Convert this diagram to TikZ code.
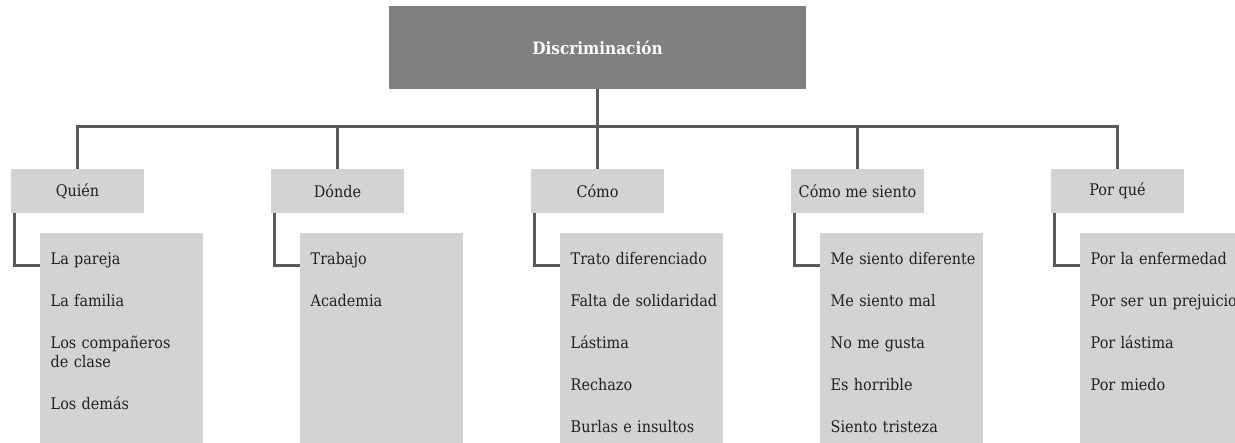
\documentclass[tikz,border=0pt]{standalone}
\usepackage{fontspec}
\setmainfont{DejaVu Serif Condensed}
\usetikzlibrary{calc}

\definecolor{rootgray}{RGB}{128,128,131}
\definecolor{boxgray}{RGB}{210,211,213}
\definecolor{linegray}{RGB}{90,90,92}
\definecolor{textgray}{RGB}{35,31,32}

\begin{document}
\begin{tikzpicture}[
    grow=down,
    x=1pt, y=1pt,
    level 1/.style={sibling distance=260pt, level distance=143.5pt,
      edge from parent path={(\tikzparentnode.south) -- ++(0,-37pt) -| (\tikzchildnode.north)}},
    level 2/.style={level distance=42pt,
      edge from parent path={($(\tikzparentnode.south west)+(4pt,0)$) |- ($(\tikzchildnode.north west)+(0,-33pt)$)}},
    edge from parent/.style={draw=linegray, line width=3pt},
    every node/.style={inner sep=0pt, text=textgray, font=\fontsize{16}{19.3}\selectfont},
    rootbox/.style={fill=rootgray, minimum width=417pt, minimum height=83pt, text=white,
      font=\fontsize{17}{20}\selectfont\bfseries},
    headbox/.style={fill=boxgray, minimum width=133pt, minimum height=44pt},
    listbox/.style={fill=boxgray, anchor=north west, xshift=-38pt, align=left,
      text width=141pt, inner xsep=11pt, text height=31pt, text depth=182pt}
  ]
  \useasboundingbox (0,0) rectangle (1235,-443);

  % Root node
  \node[rootbox] (disc) at (597.5,-47.5) {Discriminación}
    child {
      node[headbox] (quien) {Quién}
      child {node[listbox] (quienlist) {\begin{tabular}[t]{@{}l@{}}
        La pareja\\[22.7pt] La familia\\[22.7pt] Los compañeros\\ de clase\\[22.7pt] Los demás
      \end{tabular}}}
    }
    child {
      node[headbox] (donde) {Dónde}
      child {node[listbox] (dondelist) {\begin{tabular}[t]{@{}l@{}}
        Trabajo\\[22.7pt] Academia
      \end{tabular}}}
    }
    child {
      node[headbox] (como) {Cómo}
      child {node[listbox] (comolist) {\begin{tabular}[t]{@{}l@{}}
        Trato diferenciado\\[22.7pt] Falta de solidaridad\\[22.7pt] Lástima\\[22.7pt]
        Rechazo\\[22.7pt] Burlas e insultos
      \end{tabular}}}
    }
    child {
      node[headbox] (siento) {Cómo me siento}
      child {node[listbox] (sientolist) {\begin{tabular}[t]{@{}l@{}}
        Me siento diferente\\[22.7pt] Me siento mal\\[22.7pt] No me gusta\\[22.7pt]
        Es horrible\\[22.7pt] Siento tristeza
      \end{tabular}}}
    }
    child {
      node[headbox] (porque) {Por qué}
      child {node[listbox] (porquelist) {\begin{tabular}[t]{@{}l@{}}
        Por la enfermedad\\[22.7pt] Por ser un prejuicio\\[22.7pt] Por lástima\\[22.7pt]
        Por miedo
      \end{tabular}}}
    };

\end{tikzpicture}
\end{document}
